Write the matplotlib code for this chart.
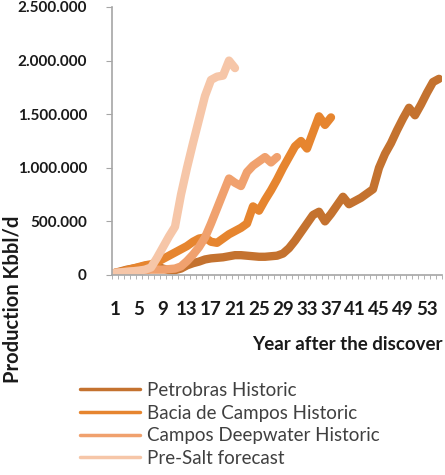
import matplotlib
matplotlib.use("Agg")
import matplotlib.pyplot as plt
from matplotlib.ticker import FuncFormatter

plt.rcParams['font.family'] = ['Lato', 'DejaVu Sans']

# years after the discovery, values in Kbbl/d
years = list(range(1, 56))

petrobras = [20, 35, 50, 60, 70, 85, 90, 80, 60, 45,
             45, 60, 90, 110, 125, 145, 155, 160, 165, 175,
             185, 185, 180, 175, 170, 170, 175, 180, 200, 250,
             320, 400, 480, 560, 590, 500, 570, 650, 730, 660,
             690, 720, 760, 800, 1000, 1130, 1230, 1350, 1460, 1560,
             1490, 1590, 1700, 1800, 1830]

bacia_campos = [20, 30, 45, 60, 75, 90, 100, 120, 150, 180,
                210, 240, 270, 310, 340, 350, 310, 300, 340, 380,
                410, 440, 480, 640, 600, 700, 790, 890, 1000, 1100,
                1200, 1250, 1180, 1330, 1480, 1400, 1470]

campos_deep = [20, 25, 30, 35, 40, 45, 50, 50, 50, 55,
               60, 80, 130, 190, 260, 350, 480, 620, 760, 900,
               860, 830, 960, 1020, 1060, 1100, 1050, 1100]

pre_salt = [20, 25, 30, 35, 40, 50, 70, 160, 260, 360,
            450, 750, 1000, 1230, 1450, 1670, 1820, 1850, 1860, 2000,
            1930]

labels = ["Petrobras Historic", "Bacia de Campos Historic",
          "Campos Deepwater Historic", "Pre-Salt forecast"]
colors = ["#C4722F", "#E6852F", "#F0A16E", "#F6C6A8"]
series = [petrobras, bacia_campos, campos_deep, pre_salt]

fig = plt.figure(figsize=(4.45, 4.75), dpi=100)
ax = fig.add_axes([112 / 445, 200 / 475, 330 / 445, 268 / 475])

for vals, col, lab in zip(series, colors, labels):
    v = [x * 1000 for x in vals]
    ax.plot(years[:len(v)], v, color=col, lw=6, solid_joinstyle='round',
            solid_capstyle='round', label=lab)

ax.set_xlim(0.5, 55.5)
ax.set_ylim(0, 2500000)
ax.set_yticks(range(0, 2500001, 500000))
ax.yaxis.set_major_formatter(FuncFormatter(lambda v, p: f"{int(v):,}".replace(",", ".")))
ax.set_xticks(years[::4])
ax.set_xticks([y + 0.5 for y in range(0, 56)], minor=True)

for s in ["top", "right"]:
    ax.spines[s].set_visible(False)
for s in ["left", "bottom"]:
    ax.spines[s].set_color("#A6A6A6")
    ax.spines[s].set_linewidth(1.2)

ax.tick_params(axis='y', length=4, color="#A6A6A6", pad=14,
               labelsize=11)
ax.tick_params(axis='x', which='major', length=0, pad=19, labelsize=13.5)
ax.tick_params(axis='x', which='minor', length=3, color="#A6A6A6")
for t in ax.get_xticklabels() + ax.get_yticklabels():
    t.set_fontweight('bold')
    t.set_color("#1A1A1A")

fig.text(443 / 445, 1 - 345 / 475, "Year after the discover", ha='right',
         va='center', fontsize=13.5, fontweight='bold', color="#1A1A1A")
fig.text(13 / 445, 1 - 299 / 475, "Production Kbbl/d", rotation=90,
         ha='center', va='center', fontsize=14.5, fontweight='bold',
         color="#1A1A1A")

handles, labs = ax.get_legend_handles_labels()
leg = fig.legend(handles, labs, loc='upper left',
                 bbox_to_anchor=(63 / 445, 1 - 365 / 475),
                 frameon=False, fontsize=13.5, handlelength=3.2,
                 handletextpad=0.4, labelspacing=0.3)
for h in leg.legend_handles:
    h.set_linewidth(2.5)
for t in leg.get_texts():
    t.set_color("#404040")

fig.savefig("out.png", dpi=100)
